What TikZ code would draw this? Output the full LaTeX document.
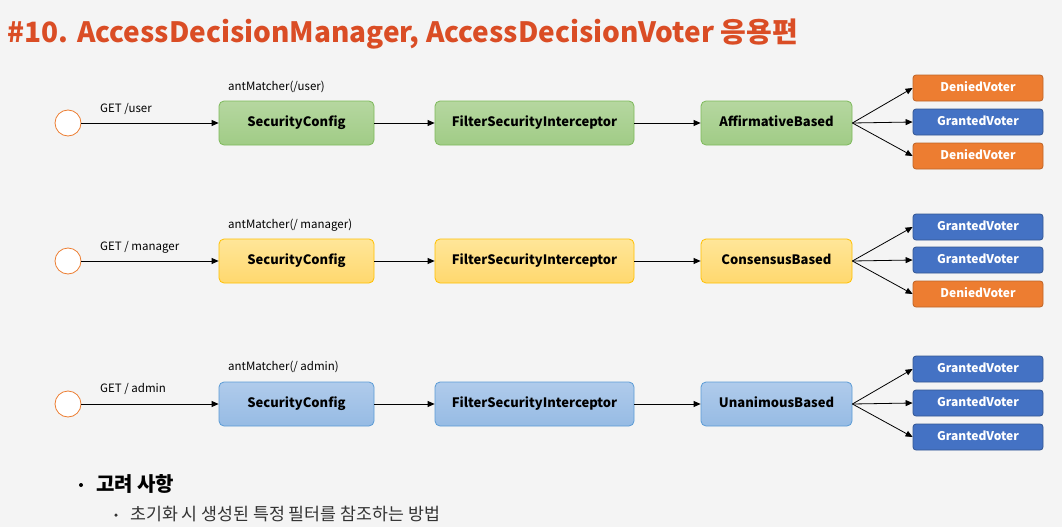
\documentclass[tikz,border=0pt]{standalone}
\usepackage{fontspec}
\setmainfont{Noto Sans CJK KR}
\usetikzlibrary{arrows.meta}
\definecolor{bgc}{HTML}{F4F4F4}
\definecolor{titlec}{HTML}{DA4D25}
\definecolor{orv}{HTML}{ED7D31}
\definecolor{blv}{HTML}{4472C4}
\begin{document}
\begin{tikzpicture}[x=1pt,y=-1pt]
  \tikzstyle{box}=[rounded corners=5pt, thick, font=\fontsize{13}{15}\selectfont\bfseries, inner sep=0pt, minimum height=44pt, text height=9.5pt, text depth=2.5pt]
  \tikzstyle{green}=[box, top color={rgb,255:red,182;green,215;blue,160}, bottom color={rgb,255:red,160;green,204;blue,134}, draw={rgb,255:red,125;green,185;blue,90}]
  \tikzstyle{yellow}=[box, top color={rgb,255:red,255;green,230;blue,153}, bottom color={rgb,255:red,255;green,216;blue,110}, draw={rgb,255:red,255;green,192;blue,0}]
  \tikzstyle{blue}=[box, top color={rgb,255:red,176;green,203;blue,235}, bottom color={rgb,255:red,150;green,187;blue,228}, draw={rgb,255:red,91;green,155;blue,213}]
  \tikzstyle{voter}=[rounded corners=3pt, thick, text=white, font=\fontsize{12}{14}\selectfont\bfseries, minimum width=130pt, minimum height=26pt, inner sep=0pt, text height=8.5pt, text depth=2.5pt]
  \tikzstyle{denied}=[voter, fill=orv, draw=orv!80!black]
  \tikzstyle{granted}=[voter, fill=blv, draw=blv!75!black]
  \tikzstyle{start}=[circle, draw={rgb,255:red,237;green,125;blue,49}, thick, fill=white, minimum size=26pt, inner sep=0pt]
  \tikzstyle{lbl}=[font=\fontsize{11.5}{13}\selectfont, anchor=west, inner sep=0pt]
  \tikzstyle{arr}=[-{Triangle[length=7pt,width=6pt]}, thick]
  \tikzstyle{bullet}=[circle, fill=#1, inner sep=0pt]
  \fill[bgc] (0,0) rectangle (1062,527);
  \useasboundingbox (0,0) rectangle (1062,527);
  \node[anchor=west, text=titlec, font=\fontsize{28}{32}\selectfont\bfseries] (title) at (4,34) {\#10. AccessDecisionManager, AccessDecisionVoter 응용편};
  % row user
  \node[start] (s1) at (68,123) {};
  \node[green, minimum width=155pt] (c1) at (296.5,123) {SecurityConfig};
  \node[green, minimum width=199pt] (f1) at (534.5,123) {FilterSecurityInterceptor};
  \node[green, minimum width=151pt] (d1) at (776.5,123) {AffirmativeBased};
  \node[denied] (v11) at (978,88) {DeniedVoter};
  \node[granted] (v12) at (978,122) {GrantedVoter};
  \node[denied] (v13) at (978,156) {DeniedVoter};
  \node[lbl] (g1) at (100,109) {GET /user};
  \node[lbl] (m1) at (228,87) {antMatcher(/user)};
  % row manager
  \node[start] (s2) at (68,261) {};
  \node[yellow, minimum width=155pt] (c2) at (296.5,261) {SecurityConfig};
  \node[yellow, minimum width=199pt] (f2) at (534.5,261) {FilterSecurityInterceptor};
  \node[yellow, minimum width=151pt] (d2) at (776.5,261) {ConsensusBased};
  \node[granted] (v21) at (978,227) {GrantedVoter};
  \node[granted] (v22) at (978,260) {GrantedVoter};
  \node[denied] (v23) at (978,294) {DeniedVoter};
  \node[lbl] (g2) at (100,247) {GET / manager};
  \node[lbl] (m2) at (228,225) {antMatcher(/ manager)};
  % row admin
  \node[start] (s3) at (68,404) {};
  \node[blue, minimum width=155pt] (c3) at (296.5,404) {SecurityConfig};
  \node[blue, minimum width=199pt] (f3) at (534.5,404) {FilterSecurityInterceptor};
  \node[blue, minimum width=151pt] (d3) at (776.5,404) {UnanimousBased};
  \node[granted] (v31) at (978,369) {GrantedVoter};
  \node[granted] (v32) at (978,403) {GrantedVoter};
  \node[granted] (v33) at (978,437) {GrantedVoter};
  \node[lbl] (g3) at (100,389) {GET / admin};
  \node[lbl] (m3) at (228,367) {antMatcher(/ admin)};
  \foreach \r in {1,2,3} {
    \draw[arr] (s\r) -- (c\r);
    \draw[arr] (c\r) -- (f\r);
    \draw[arr] (f\r) -- (d\r);
    \draw[arr] (d\r.east) -- (v\r1.west);
    \draw[arr] (d\r.east) -- (v\r2.west);
    \draw[arr] (d\r.east) -- (v\r3.west);
  }
  % notes
  \node[bullet=black, minimum size=4pt] (b1) at (81,485) {};
  \node[anchor=west, font=\fontsize{20}{22}\selectfont\bfseries, inner sep=0pt] (n1) at (96,484) {고려 사항};
  \node[bullet=black!80, minimum size=3.5pt] (b2) at (116,515) {};
  \node[anchor=west, font=\fontsize{17.3}{19}\selectfont, text=black!80, inner sep=0pt] (n2) at (130,514) {초기화 시 생성된 특정 필터를 참조하는 방법};
\end{tikzpicture}
\end{document}
